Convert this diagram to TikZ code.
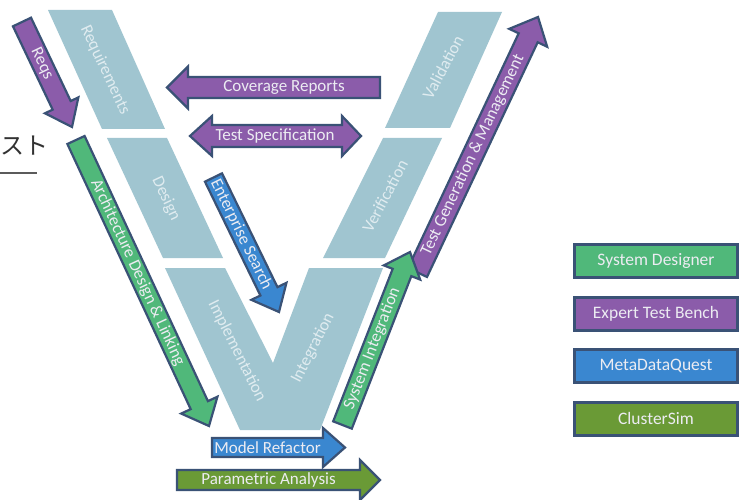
\documentclass[tikz,border=0pt]{standalone}
\usepackage{fontspec}
\setmainfont{Carlito}
\newfontfamily\jpfont{Noto Sans CJK JP}
\usetikzlibrary{calc}
\definecolor{strip}{RGB}{160,197,208}
\definecolor{striptext}{RGB}{224,236,240}
\definecolor{bord}{RGB}{58,82,118}
\definecolor{purp}{RGB}{139,92,170}
\definecolor{grn}{RGB}{80,184,122}
\definecolor{blu}{RGB}{58,135,208}
\definecolor{olv}{RGB}{106,154,54}
\definecolor{lbltext}{RGB}{236,236,242}
\definecolor{jtext}{RGB}{50,50,50}
% #1 fill, #2 name, #3 tail, #4 tip, #5 shaft half, #6 head half, #7 head length, #8 label angle, #9 text
\newcommand{\fatarrow}[9]{%
  \coordinate (#2-t) at #3;
  \coordinate (#2-h) at #4;
  \coordinate (#2-b) at ($(#2-h)!#7!(#2-t)$);
  \draw[arrowline,fill=#1] ($(#2-t)!#5!90:(#2-h)$) -- ($(#2-b)!#5!90:(#2-h)$) -- ($(#2-b)!#6!90:(#2-h)$) -- (#2-h)
     -- ($(#2-b)!#6!-90:(#2-h)$) -- ($(#2-b)!#5!-90:(#2-h)$) -- ($(#2-t)!#5!-90:(#2-h)$) -- cycle;
  \node[lbl,rotate=#8] (#2) at ($(#2-t)!0.5!(#2-b)$) {#9};}
\begin{document}
\begin{tikzpicture}[x=1pt,y=-1pt,
  arrowline/.style={draw=bord,line width=2.2pt,line join=miter},
  lbl/.style={text=lbltext,font=\fontsize{17}{17}\selectfont,inner sep=0pt},
  vlbl/.style={text=striptext,font=\fontsize{17}{17}\selectfont,inner sep=0pt},
  stripshape/.style={fill=strip},
  legendbox/.style={draw=bord,line width=3pt,minimum width=163pt,minimum height=33pt,
     text=lbltext,font=\fontsize{17.5}{17.5}\selectfont,inner sep=0pt}]
\useasboundingbox (0,0) rectangle (750,500);
\fill[white] (0,0) rectangle (750,500);

% V strips
\fill[stripshape] (48,10) -- (112,10) -- (165,129) -- (102,129) -- cycle;
\fill[stripshape] (107,138) -- (167,138) -- (223,258) -- (163,258) -- cycle;
\fill[stripshape] (165,268) -- (225,268) -- (273,363) -- (309,268) -- (383,268) -- (320,430) -- (240,430) -- cycle;
\fill[stripshape] (383,138) -- (442,138) -- (385,258) -- (323,258) -- cycle;
\fill[stripshape] (438,12) -- (502,12) -- (450,128) -- (385,128) -- cycle;

\node[vlbl,rotate=-65] (req) at (105,70) {Requirements};
\node[vlbl,rotate=-65] (des) at (166,199) {Design};
\node[vlbl,rotate=-63.5] (imp) at (237,351) {Implementation};
\node[vlbl,rotate=63] (int) at (313,348) {Integration};
\node[vlbl,rotate=62] (ver) at (385,196) {Verification};
\node[vlbl,rotate=62] (val) at (443,67) {Validation};

% arrows
\fatarrow{purp}{reqs}{(22,22)}{(72,127)}{10pt}{18.5pt}{24pt}{-64.5}{Reqs}
\fatarrow{grn}{arch}{(76,140)}{(209,426)}{9.5pt}{20pt}{23pt}{-65.2}{Architecture Design \& Linking}
\fatarrow{blu}{ent}{(213.5,177.5)}{(279,312)}{9.5pt}{19.5pt}{23pt}{-64}{Enterprise Search}
\fatarrow{purp}{cov}{(380,87.5)}{(167,87.5)}{10.5pt}{21pt}{21pt}{0}{Coverage Reports}
\fatarrow{purp}{tgm}{(417.5,272.5)}{(538,17)}{10.5pt}{21pt}{23pt}{64.7}{Test Generation \& Management}
\fatarrow{grn}{sys}{(342.5,425)}{(410,252)}{10pt}{19.5pt}{22pt}{68.7}{System Integration}
\fatarrow{blu}{mod}{(212,447.5)}{(345,447.5)}{9.5pt}{19.5pt}{22pt}{0}{Model Refactor}
\fatarrow{olv}{par}{(177,480)}{(380,480)}{10pt}{20pt}{20pt}{0}{Parametric Analysis}

% double arrow
\coordinate (tsl) at (190,136);
\coordinate (tsr) at (361,136);
\draw[arrowline,fill=purp] (tsl) -- (212,116) -- (212,125) -- (342,125) -- (342,116) -- (tsr)
   -- (342,156) -- (342,147) -- (212,147) -- (212,156) -- cycle;
\node[lbl] (tspec) at (275,136) {Test Specification};

% legend
\node[legendbox,fill=grn] (lg1) at (656,261) {System Designer};
\node[legendbox,fill=purp] (lg2) at (656,313.5) {Expert Test Bench};
\node[legendbox,fill=blu] (lg3) at (656,366) {MetaDataQuest};
\node[legendbox,fill=olv] (lg4) at (656,418.5) {ClusterSim};

% Japanese fragment
\node[anchor=west,inner sep=0pt,text=jtext,font=\jpfont\fontsize{24}{24}\selectfont] (jp) at (0.5,146) {スト};
\coordinate (ul1) at (0,173);
\coordinate (ul2) at (37,173);
\draw[draw=jtext!80,line width=1.8pt] (ul1) -- (ul2);
\end{tikzpicture}
\end{document}
